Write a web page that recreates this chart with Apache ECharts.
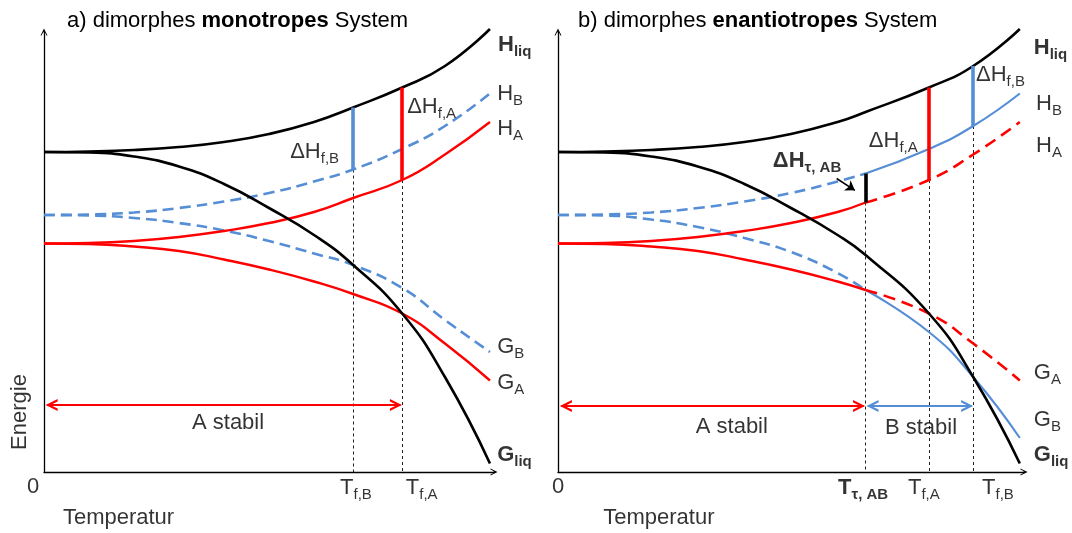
<!DOCTYPE html>
<html>
<head>
<meta charset="utf-8">
<script src="https://cdn.jsdelivr.net/npm/echarts@6/dist/echarts.min.js"></script>
<style>
  html, body { margin: 0; padding: 0; background: #fff; }
  #chart { width: 1072px; height: 533px; }
</style>
</head>
<body>
<div id="chart"></div>
<script>
// Temperature grid (arbitrary units, 0..100) shared by every curve
const temps = [0, 10, 20, 30, 40, 50, 60, 66, 68.7, 79.6, 89.1, 99.1];

// Melt: enthalpy and free enthalpy (arbitrary energy units)
const hLiq = [320, 320.5, 322, 325, 330, 338, 350, 360, 364.5, 384.5, 406, 443];
const gLiq = [320, 319.5, 315.5, 305.5, 288, 264, 237, 217, 207, 158.5, 95, 8.5];

// Solid modifications A and B
const hB = [257, 257.5, 259.5, 264, 270.5, 279, 290.5, 298.5, 302.5, 323, 346, 378.5];
const hA = [228.5, 229, 231, 235, 241, 249, 260, 269.5, 274, 292, 317.5, 350];
const gA = [228.5, 228, 225.5, 221, 212.5, 202.5, 190.5, 182, 178, 158.5, 128.5, 91.5];
const gBMono = [257, 256.5, 254, 249, 241.5, 231, 218.5, 211, 207, 184, 152, 120];
const gBEnan = [257, 256.5, 252.5, 245, 234, 220, 199, 182, 174, 140, 95, 34];

// Characteristic temperatures
const tMono = { fB: 68.7, fA: 79.6 };
const tEnan = { tr: 66, fA: 79.6, fB: 89.1 };

// Text: [T, E, rich text, mode]  (mode: undefined = left-anchored, 'c' = centred, 'rot' = vertical)
const labelsMono = [
  [100.9, 427, '{b|H}{sb|liq}'],
  [100.7, 378, '{n|H}{s|B}'],
  [100.7, 343, '{n|H}{s|A}'],
  [100.7, 125, '{n|G}{s|B}'],
  [100.7, 89, '{n|G}{s|A}'],
  [100.7, 17, '{b|G}{sb|liq}'],
  [54.7, 320, '{n|ΔH}{s|f,B}'],
  [80.7, 365, '{n|ΔH}{s|f,A}'],
  [65.8, -16, '{n|T}{s|f,B}'],
  [80.4, -16, '{n|T}{s|f,A}'],
  [4.2, -46, '{n|Temperatur}'],
  [-2.4, -15, '{n|0}', 'c'],
  [40.9, 49, '{n|A stabil}', 'c'],
  [-5.3, 60, '{n|Energie}', 'rot']
];
const labelsEnan = [
  [102.1, 424, '{b|H}{sb|liq}'],
  [102.6, 368, '{n|H}{s|B}'],
  [102.6, 326, '{n|H}{s|A}'],
  [102.1, 99, '{n|G}{s|A}'],
  [102.1, 52, '{n|G}{s|B}'],
  [102.1, 17, '{b|G}{sb|liq}'],
  [89.7, 397, '{n|ΔH}{s|f,B}'],
  [66.7, 331, '{n|ΔH}{s|f,A}'],
  [46.1, 311, '{b|ΔH}{sb|τ, AB}'],
  [60.1, -16, '{b|T}{sb|τ, AB}'],
  [75.1, -16, '{n|T}{s|f,A}'],
  [91.0, -16, '{n|T}{s|f,B}'],
  [9.7, -46, '{n|Temperatur}'],
  [0, -15, '{n|0}', 'c'],
  [37.3, 45, '{n|A stabil}', 'c'],
  [77.9, 44, '{n|B stabil}', 'c']
];
const titles = [
  '{n|a) dimorphes }{b|monotropes}{n| System}',
  '{n|b) dimorphes }{b|enantiotropes}{n| System}'
];

const FONT = '"Liberation Sans", Arial, Helvetica, sans-serif';
const INK = '#000';
const RED = '#ff0000';
const BLUE = '#558ed5';
const rich = {
  n: { fontFamily: FONT, fontSize: 22, color: INK, fontWeight: 'normal' },
  b: { fontFamily: FONT, fontSize: 22, color: INK, fontWeight: 'bold' },
  s: { fontFamily: FONT, fontSize: 15, color: INK, fontWeight: 'normal', padding: [13, 0, 0, 0] },
  sb: { fontFamily: FONT, fontSize: 15, color: INK, fontWeight: 'bold', padding: [13, 0, 0, 0] }
};

// Open arrowheads (tip pointing up in local coordinates)
const AXIS_HEAD = 'path://M5,0 L10,10 L8.6,10 L5,2.8 L1.4,10 L0,10 Z M4.4,1 L5.6,1 L5.6,6 L4.4,6 Z';
const SPAN_HEAD = 'path://M5,0 L10,10 L8,10 L5,4 L2,10 L0,10 Z M4.2,1 L5.8,1 L5.8,5.5 L4.2,5.5 Z';

const at = (vals, t) => vals[temps.indexOf(t)];
// Points of one curve inside [from, to]; `skip` drops the sample that belongs to the other panel
const pts = (vals, from, to, skip) =>
  temps.map((t, i) => [t, vals[i]]).filter(p => p[0] >= from && p[0] <= to && p[0] !== skip);

function curve(grid, vals, from, to, color, width, dash, z) {
  return {
    type: 'line', xAxisIndex: grid, yAxisIndex: grid,
    data: pts(vals, from, to, grid === 0 ? tEnan.tr : tMono.fB),
    symbol: 'none', showSymbol: false, silent: true, clip: false,
    smooth: 0.5,
    lineStyle: { color, width, type: dash || 'solid', cap: 'butt' },
    z
  };
}

function segments(grid, coords, color, width, type, extra, z) {
  return Object.assign({
    type: 'lines', coordinateSystem: 'cartesian2d', xAxisIndex: grid, yAxisIndex: grid,
    data: coords.map(c => ({ coords: c })),
    symbol: 'none', silent: true, clip: false,
    lineStyle: { color, width, type, opacity: 1, curveness: 0 },
    z
  }, extra || {});
}

function labels(grid, items) {
  return {
    type: 'scatter', xAxisIndex: grid, yAxisIndex: grid,
    symbolSize: 0, silent: true, clip: false, z: 20,
    itemStyle: { color: 'transparent' },
    data: items.map(([x, y, text, mode]) => ({
      value: [x, y],
      label: {
        show: true, formatter: text, rich, color: INK,
        position: mode ? 'inside' : 'right', distance: 0,
        rotate: mode === 'rot' ? 90 : 0,
        align: mode ? 'center' : 'left', verticalAlign: 'middle'
      }
    }))
  };
}

function axis(grid, max) {
  return {
    type: 'value', gridIndex: grid, min: 0, max,
    axisLine: {
      show: true, onZero: true, symbol: ['none', AXIS_HEAD], symbolSize: [9, 7],
      lineStyle: { color: '#000', width: 1.3 }
    },
    axisTick: { show: false }, axisLabel: { show: false }, splitLine: { show: false }
  };
}

const dotted = [3, 3];
const dashB = [11, 6];
const dashR = [12, 7];
const END = temps[temps.length - 1];

const series = [
  // ---- a) monotropic system ----
  segments(0, [
    [[tMono.fB, at(hB, tMono.fB)], [tMono.fB, 0]],
    [[tMono.fA, at(hA, tMono.fA)], [tMono.fA, 0]]
  ], '#222', 1, dotted, null, 1),
  curve(0, hB, 0, END, BLUE, 2.6, dashB, 2),
  curve(0, gBMono, 0, END, BLUE, 2.6, dashB, 2),
  curve(0, hA, 0, END, RED, 2.4, 'solid', 3),
  curve(0, gA, 0, END, RED, 2.4, 'solid', 3),
  curve(0, hLiq, 0, END, '#000', 2.6, 'solid', 4),
  curve(0, gLiq, 0, END, '#000', 2.6, 'solid', 4),
  segments(0, [[[tMono.fB, at(hB, tMono.fB)], [tMono.fB, at(hLiq, tMono.fB)]]], BLUE, 3.6, 'solid', null, 5),
  segments(0, [[[tMono.fA, at(hA, tMono.fA)], [tMono.fA, at(hLiq, tMono.fA)]]], RED, 3.6, 'solid', null, 5),
  segments(0, [[[1.7, 67], [tMono.fA - 1.4, 67]]], RED, 2.2, 'solid',
    { symbol: [SPAN_HEAD, SPAN_HEAD], symbolSize: [12, 12] }, 5),
  labels(0, labelsMono),

  // ---- b) enantiotropic system ----
  segments(1, [
    [[tEnan.tr, at(hA, tEnan.tr)], [tEnan.tr, 0]],
    [[tEnan.fA, at(hA, tEnan.fA)], [tEnan.fA, 0]],
    [[tEnan.fB, at(hB, tEnan.fB)], [tEnan.fB, 0]]
  ], '#222', 1, dotted, null, 1),
  curve(1, hB, 0, tEnan.tr, BLUE, 2.6, dashB, 2),
  curve(1, hB, tEnan.tr, END, BLUE, 2.1, 'solid', 2),
  curve(1, gBEnan, 0, tEnan.tr, BLUE, 2.6, dashB, 2),
  curve(1, gBEnan, tEnan.tr, END, BLUE, 2.1, 'solid', 2),
  curve(1, hA, 0, tEnan.tr, RED, 2.4, 'solid', 3),
  curve(1, hA, tEnan.tr, END, RED, 2.6, dashR, 3),
  curve(1, gA, 0, tEnan.tr, RED, 2.4, 'solid', 3),
  curve(1, gA, tEnan.tr, END, RED, 2.6, dashR, 3),
  curve(1, hLiq, 0, END, '#000', 2.6, 'solid', 4),
  curve(1, gLiq, 0, END, '#000', 2.6, 'solid', 4),
  segments(1, [[[tEnan.tr, at(hA, tEnan.tr)], [tEnan.tr, at(hB, tEnan.tr)]]], '#000', 3.6, 'solid', null, 5),
  segments(1, [[[tEnan.fA, at(hA, tEnan.fA)], [tEnan.fA, at(hLiq, tEnan.fA)]]], RED, 3.6, 'solid', null, 5),
  segments(1, [[[tEnan.fB, at(hB, tEnan.fB)], [tEnan.fB, at(hLiq, tEnan.fB)]]], BLUE, 3.6, 'solid', null, 5),
  segments(1, [[[1.7, 66], [tEnan.tr - 1.4, 66]]], RED, 2.2, 'solid',
    { symbol: [SPAN_HEAD, SPAN_HEAD], symbolSize: [12, 12] }, 5),
  segments(1, [[[tEnan.tr + 1.5, 66], [tEnan.fB - 1.3, 66]]], BLUE, 2.2, 'solid',
    { symbol: [SPAN_HEAD, SPAN_HEAD], symbolSize: [12, 12] }, 5),
  // pointer from the ΔHτ label to the transition enthalpy bar
  segments(1, [[[tEnan.tr - 6.2, 293.5], [tEnan.tr - 2.3, 281.7]]], '#000', 1.5, 'solid',
    { symbol: ['none', 'arrow'], symbolSize: [8, 9] }, 6),
  labels(1, labelsEnan)
];

const chart = echarts.init(document.getElementById('chart'), null, { renderer: 'canvas' });
chart.setOption({
  animation: false,
  backgroundColor: '#fff',
  title: [
    { left: 62, top: 5, text: titles[0], textStyle: { rich, fontWeight: 'normal' } },
    { left: 573, top: 5, text: titles[1], textStyle: { rich, fontWeight: 'normal' } }
  ],
  grid: [
    { left: 44, top: 32, width: 450, height: 440 },
    { left: 558, top: 32, width: 466, height: 440 }
  ],
  xAxis: [axis(0, 100), axis(1, 100)],
  yAxis: [axis(0, 440), axis(1, 440)],
  series
});
</script>
</body>
</html>
